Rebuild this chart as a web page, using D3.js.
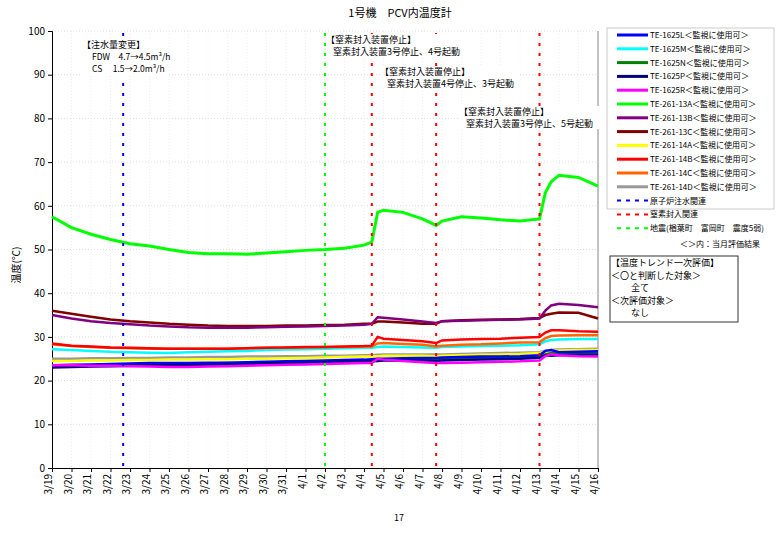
<!DOCTYPE html><html><head><meta charset="utf-8"><script src="https://cdn.jsdelivr.net/npm/d3@7"></script>
<style>body{margin:0;background:#fff}text{font-family:"Noto Sans CJK JP",sans-serif}</style></head><body><svg id="c" width="776" height="539"></svg>
<script>
const dateLabels=["3/19","3/20","3/21","3/22","3/23","3/24","3/25","3/26","3/27","3/28","3/29","3/30","3/31","4/1","4/2","4/3","4/4","4/5","4/6","4/7","4/8","4/9","4/10","4/11","4/12","4/13","4/14","4/15","4/16"];
const days=[0,1,2,3,4,5,6,7,8,9,10,11,12,13,14,15,16,16.4,16.7,17,18,19,19.7,20,21,22,23,24,25,25.3,25.6,26,27,28];
const names=["TE-1625L＜監視に使用可＞","TE-1625M＜監視に使用可＞","TE-1625N＜監視に使用可＞","TE-1625P＜監視に使用可＞","TE-1625R＜監視に使用可＞","TE-261-13A＜監視に使用可＞","TE-261-13B＜監視に使用可＞","TE-261-13C＜監視に使用可＞","TE-261-14A＜監視に使用可＞","TE-261-14B＜監視に使用可＞","TE-261-14C＜監視に使用可＞","TE-261-14D＜監視に使用可＞"];
const colors=["#0000ff","#00ffff","#008000","#000080","#ff00ff","#00ff00","#800080","#800000","#ffff00","#ff0000","#ff6600","#999999"];
const s1625L=[23.5,23.6,23.7,23.8,23.9,24,24,24,24.1,24.1,24.2,24.3,24.4,24.5,24.6,24.7,24.8,24.9,25,25,25.1,25.2,25.2,25.3,25.4,25.5,25.5,25.6,25.8,26.8,27,26.5,26.6,26.7];
const s1625M=[27.2,27,26.8,26.6,26.5,26.4,26.3,26.5,26.6,26.7,26.8,27,27.1,27.2,27.3,27.4,27.5,27.5,27.7,27.8,27.7,27.6,27.5,27.7,27.8,27.9,28,28.1,28.3,29,29.3,29.4,29.5,29.5];
const s1625N=[23.3,23.4,23.5,23.6,23.7,23.8,23.8,23.9,23.9,24,24,24.1,24.2,24.3,24.4,24.5,24.6,24.6,24.8,24.9,24.9,24.8,24.7,24.9,25,25.1,25.2,25.3,25.5,26,26.3,26.3,26.4,26.5];
const s1625P=[23,23.1,23.2,23.3,23.4,23.5,23.5,23.5,23.6,23.7,23.8,23.9,24,24.1,24.2,24.3,24.3,24.4,24.5,24.6,24.6,24.6,24.5,24.6,24.7,24.8,24.9,25,25.2,25.8,25.7,25.8,25.9,26];
const s1625R=[23.5,23.5,23.4,23.4,23.3,23.2,23.1,23.1,23.2,23.3,23.4,23.5,23.6,23.7,23.8,23.9,24,24,25,24.8,24.5,24.2,24,24,24.1,24.2,24.3,24.4,24.6,25.6,26,25.8,25.6,25.5];
const s13A=[57.5,55,53.5,52.3,51.3,50.8,50,49.3,49,49,48.9,49.2,49.5,49.8,50,50.3,51,51.7,58.5,59,58.5,57,55.5,56.5,57.5,57.2,56.8,56.5,57,63,65.5,67,66.5,64.5];
const s13B=[35,34.2,33.6,33.2,32.9,32.6,32.4,32.2,32.1,32.1,32.1,32.2,32.3,32.4,32.5,32.6,32.8,33,34.5,34.4,34,33.5,33.2,33.6,33.7,33.8,33.9,34,34.2,36,37.2,37.6,37.3,36.8];
const s13C=[36,35.3,34.6,34,33.6,33.3,33,32.8,32.6,32.5,32.5,32.5,32.6,32.6,32.7,32.8,33,33,33.5,33.5,33.3,33,33,33.6,33.8,33.9,34,34.1,34.3,35,35.3,35.6,35.5,34.2];
const s14A=[24.5,24.5,24.6,24.6,24.7,24.7,24.8,24.8,24.9,24.9,25,25,25.1,25.2,25.3,25.4,25.5,25.5,25.6,25.7,25.7,25.7,25.6,25.7,25.8,25.9,26,26.1,26.3,26.6,26.8,26.9,27,27];
const s14B=[28.5,28,27.8,27.6,27.5,27.4,27.3,27.3,27.3,27.3,27.4,27.5,27.6,27.7,27.7,27.8,27.9,28,30,29.6,29.3,29,28.6,29.2,29.4,29.5,29.6,29.8,30,31,31.5,31.5,31.3,31.2];
const s14C=[28.3,27.9,27.7,27.5,27.4,27.3,27.3,27.3,27.3,27.3,27.4,27.5,27.5,27.6,27.7,27.7,27.8,27.8,28.5,28.6,28.4,28.2,27.8,28,28.2,28.3,28.5,28.7,28.8,29.7,30.2,30.3,30.4,30.4];
const s14D=[25,25,25.1,25.1,25.2,25.2,25.3,25.3,25.4,25.4,25.5,25.5,25.6,25.6,25.7,25.7,25.8,25.8,25.9,26,26,26,26,26,26.1,26.2,26.3,26.4,26.5,26.8,27,27.1,27.2,27.3];
const series=[s1625L,s1625M,s1625N,s1625P,s1625R,s13A,s13B,s13C,s14A,s14B,s14C,s14D];
const drawOrder=[11,8,1,10,9,7,6,2,0,3,4,5];
const events=[{d:3.65,c:"#0000ff"},{d:14,c:"#00ff00"},{d:16.4,c:"#ff0000"},{d:19.7,c:"#ff0000"},{d:25,c:"#ff0000"}];
const yTicks=[0,10,20,30,40,50,60,70,80,90,100];

const svg=d3.select("#c");
const x=d3.scaleLinear().domain([0,28]).range([52,598]);
const y=d3.scaleLinear().domain([0,100]).range([468,31]);
svg.append("text").attr("x",400).attr("y",17).attr("text-anchor","middle").attr("font-size",11).text("1号機　PCV内温度計");
const g=svg.append("g");
g.selectAll(".hg").data(yTicks.slice(1)).join("line").attr("x1",52).attr("x2",598).attr("y1",d=>y(d)).attr("y2",d=>y(d)).attr("stroke","#ddd").attr("stroke-dasharray","1,2");
g.selectAll(".vg").data(d3.range(1,29)).join("line").attr("x1",d=>x(d)).attr("x2",d=>x(d)).attr("y1",31).attr("y2",468).attr("stroke","#eee").attr("stroke-dasharray","1,2");
svg.append("g").attr("transform","translate(52,0)").call(d3.axisLeft(y).tickValues(yTicks).tickSize(4)).call(a=>a.selectAll("text").attr("font-size",10).attr("font-family","Liberation Sans"));
svg.append("g").attr("transform","translate(0,468)").call(d3.axisBottom(x).tickValues(d3.range(0,29)).tickSize(4).tickFormat(i=>dateLabels[i]))
 .call(a=>a.selectAll("text").attr("font-size",10).attr("font-family","Liberation Sans").attr("transform","rotate(-90)").attr("text-anchor","end").attr("x",-6).attr("y",-4).attr("dy","0.35em"));
svg.append("line").attr("x1",598).attr("x2",598).attr("y1",31).attr("y2",468).attr("stroke","#888");
svg.append("text").attr("transform","translate(20,265) rotate(-90)").attr("text-anchor","middle").attr("font-size",10).text("温度(℃)");
const line=d3.line().x((d,i)=>x(days[i])).y(d=>y(d));
drawOrder.forEach(k=>svg.append("path").attr("d",line(series[k])).attr("fill","none").attr("stroke",colors[k]).attr("stroke-width",k==5?3:2.5));
events.forEach(e=>svg.append("line").attr("x1",x(e.d)).attr("x2",x(e.d)).attr("y1",33).attr("y2",468).attr("stroke",e.c).attr("stroke-width",2).attr("stroke-dasharray","3,7"));
function bg(x0,y0,w,h){svg.append("rect").attr("x",x0).attr("y",y0).attr("width",w).attr("height",h).attr("fill","#fff");}
bg(80,38,88,38);bg(326,34,140,23);bg(380,66,140,23);bg(459,106,140,23);
function note(xx,yy,lines){lines.forEach((t,i)=>svg.append("text").attr("x",xx+(i?7:0)).attr("y",yy+i*12).attr("font-size",9).text(t));}
note(82,48,["【注水量変更】"]);
svg.append("text").attr("x",92).attr("y",60).attr("font-size",8.5).text("FDW　4.7→4.5m³/h");
svg.append("text").attr("x",92).attr("y",72).attr("font-size",8.5).text("CS　 1.5→2.0m³/h");
note(326,43,["【窒素封入装置停止】","窒素封入装置3号停止、4号起動"]);
note(380,75,["【窒素封入装置停止】","窒素封入装置4号停止、3号起動"]);
note(459,115,["【窒素封入装置停止】","窒素封入装置3号停止、5号起動"]);
// legend
svg.append("rect").attr("x",607).attr("y",28).attr("width",167).attr("height",181).attr("fill","none").attr("stroke","#ccc");
names.forEach((n,i)=>{const yy=35+i*13.8;
 svg.append("line").attr("x1",617).attr("x2",648).attr("y1",yy).attr("y2",yy).attr("stroke",colors[i]).attr("stroke-width",3);
 svg.append("text").attr("x",650).attr("y",yy+3).attr("font-size",8).text(n);});
[["原子炉注水関連","#0000ff"],["窒素封入関連","#ff0000"],["地震(楢葉町　富岡町　震度5弱)","#00ff00"]].forEach((l,j)=>{const yy=35+(12+j)*13.8;
 svg.append("line").attr("x1",617).attr("x2",648).attr("y1",yy).attr("y2",yy).attr("stroke",l[1]).attr("stroke-width",2).attr("stroke-dasharray","4,5");
 svg.append("text").attr("x",650).attr("y",yy+3).attr("font-size",8).text(l[0]);});
svg.append("text").attr("x",680).attr("y",247).attr("font-size",8).text("＜＞内：当月評価結果");
svg.append("rect").attr("x",610).attr("y",256).attr("width",128).attr("height",66).attr("fill","none").attr("stroke","#333");
[["【温度トレンド一次評価】",611],["＜〇と判断した対象＞",611],["全て",631],["＜次評価対象＞",611],["なし",631]].forEach((t,i)=>svg.append("text").attr("x",t[1]).attr("y",266+i*12.5).attr("font-size",9).text(t[0]));
svg.append("text").attr("x",399).attr("y",521).attr("text-anchor","middle").attr("font-size",9).text("17");
</script></body></html>
